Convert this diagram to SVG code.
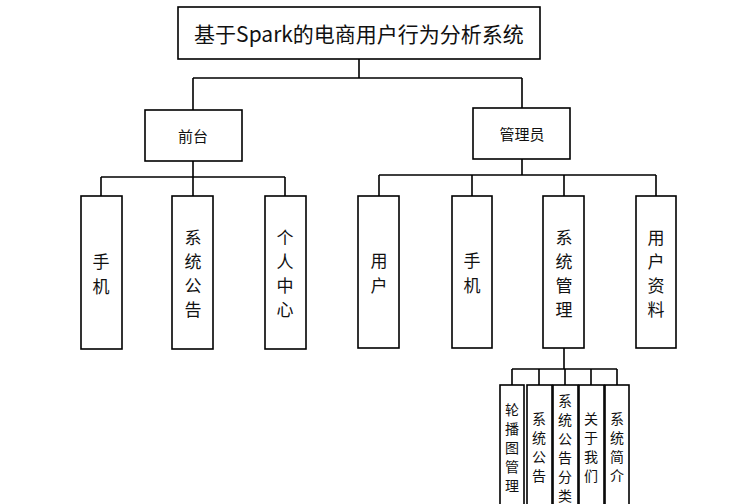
<svg xmlns="http://www.w3.org/2000/svg" width="737" height="504" viewBox="0 0 737 504">
<style>
.b{fill:#fff;stroke:#000;stroke-width:1.6}
.c{fill:none;stroke:#000;stroke-width:1.6}
text{font-family:"Noto Sans CJK SC","Liberation Sans",sans-serif;fill:#111;text-anchor:middle;dominant-baseline:central}
.v{font-size:17px}
.s{font-size:14px}
</style>
<rect width="737" height="504" fill="#fff"/>
<g id="connectors">
<path class="c" d="M359 59V78M193 78H522M193 78V110M522 78V108"/>
<path class="c" d="M193 161V177M101 177H285M101 177V196M193 177V196M285 177V196"/>
<path class="c" d="M522 159V175M379 175H656M379 175V196M472 175V196M564 175V196M656 175V196"/>
<path class="c" d="M564 348V369M512 369H617M512 369V385M539 369V385M565 369V385M591 369V385M617 369V385"/>
</g>
<g id="root"><rect class="b" x="178" y="7" width="362" height="52"/><text x="359" y="33" font-size="21">基于Spark的电商用户行为分析系统</text></g>
<g id="qiantai"><rect class="b" x="145" y="110" width="97" height="51"/><text x="193" y="135" font-size="15">前台</text></g>
<g id="admin"><rect class="b" x="473" y="108" width="97" height="51"/><text x="522" y="133" font-size="15">管理员</text></g>
<g id="l1"><rect class="b" x="81" y="196" width="41" height="153"/><text class="v" x="101"><tspan x="101" y="260">手</tspan><tspan x="101" y="285">机</tspan></text></g>
<g id="l2"><rect class="b" x="172" y="196" width="41" height="153"/><text class="v" x="193"><tspan x="193" y="236">系</tspan><tspan x="193" y="260">统</tspan><tspan x="193" y="284">公</tspan><tspan x="193" y="308">告</tspan></text></g>
<g id="l3"><rect class="b" x="265" y="196" width="41" height="153"/><text class="v" x="285"><tspan x="285" y="236">个</tspan><tspan x="285" y="260">人</tspan><tspan x="285" y="284">中</tspan><tspan x="285" y="308">心</tspan></text></g>
<g id="r1"><rect class="b" x="358" y="196" width="41" height="152"/><text class="v"><tspan x="379" y="259">用</tspan><tspan x="379" y="284">户</tspan></text></g>
<g id="r2"><rect class="b" x="452" y="196" width="40" height="152"/><text class="v"><tspan x="472" y="259">手</tspan><tspan x="472" y="284">机</tspan></text></g>
<g id="r3"><rect class="b" x="543" y="196" width="41" height="152"/><text class="v"><tspan x="564" y="236">系</tspan><tspan x="564" y="260">统</tspan><tspan x="564" y="284">管</tspan><tspan x="564" y="308">理</tspan></text></g>
<g id="r4"><rect class="b" x="636" y="196" width="40" height="152"/><text class="v"><tspan x="656" y="236">用</tspan><tspan x="656" y="260">户</tspan><tspan x="656" y="284">资</tspan><tspan x="656" y="308">料</tspan></text></g>
<g id="s1"><rect class="b" x="500" y="385" width="24" height="125"/><text class="s"><tspan x="512" y="409">轮</tspan><tspan x="512" y="428">播</tspan><tspan x="512" y="447">图</tspan><tspan x="512" y="466">管</tspan><tspan x="512" y="485">理</tspan></text></g>
<g id="s2"><rect class="b" x="527" y="385" width="25" height="125"/><text class="s"><tspan x="539" y="418">系</tspan><tspan x="539" y="437">统</tspan><tspan x="539" y="456">公</tspan><tspan x="539" y="475">告</tspan></text></g>
<g id="s3"><rect class="b" x="553" y="385" width="25" height="125"/><text class="s"><tspan x="565" y="400">系</tspan><tspan x="565" y="419">统</tspan><tspan x="565" y="438">公</tspan><tspan x="565" y="457">告</tspan><tspan x="565" y="476">分</tspan><tspan x="565" y="495">类</tspan></text></g>
<g id="s4"><rect class="b" x="579" y="385" width="25" height="125"/><text class="s"><tspan x="591" y="418">关</tspan><tspan x="591" y="437">于</tspan><tspan x="591" y="456">我</tspan><tspan x="591" y="475">们</tspan></text></g>
<g id="s5"><rect class="b" x="605" y="385" width="24" height="125"/><text class="s"><tspan x="617" y="418">系</tspan><tspan x="617" y="437">统</tspan><tspan x="617" y="456">简</tspan><tspan x="617" y="475">介</tspan></text></g>
</svg>
